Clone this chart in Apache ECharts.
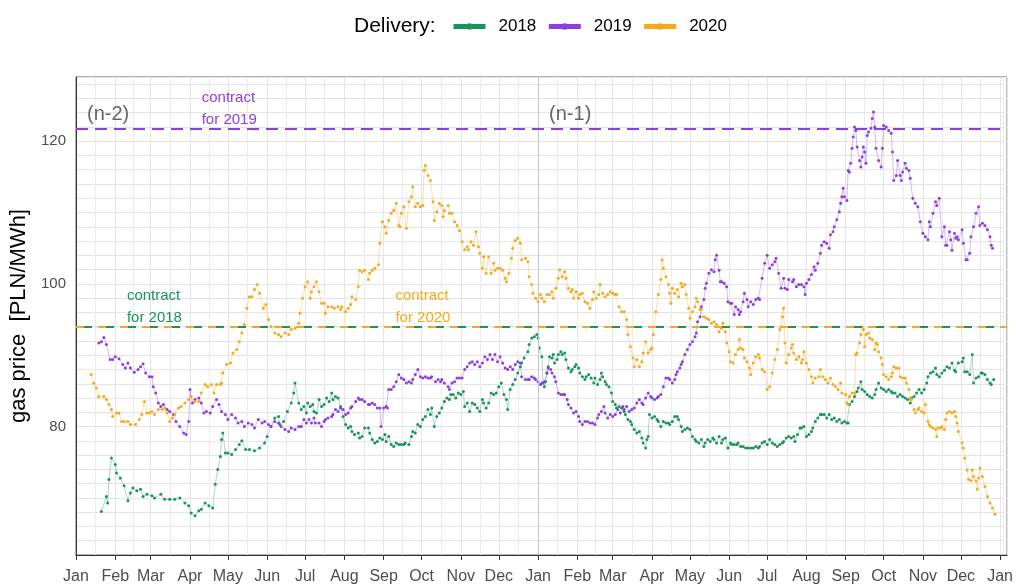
<!DOCTYPE html>
<html>
<head>
<meta charset="utf-8">
<script src="https://cdn.jsdelivr.net/npm/echarts@6/dist/echarts.min.js"></script>
<style>
  html, body { margin: 0; padding: 0; background: #fff; }
  #main { width: 1016px; height: 585px; }
</style>
</head>
<body>
<div id="main"></div>
<script>
// day offsets count from 1 Jan of year n-2, values in PLN/MWh
var months = ['Jan', 'Feb', 'Mar', 'Apr', 'May', 'Jun', 'Jul', 'Aug', 'Sep', 'Oct', 'Nov', 'Dec'];
var seriesNames = ['2018', '2019', '2020'];
var contract = { '2018': 94.0, '2019': 121.75, '2020': 94.0 };

var delivery2018 = [
  [20,68.1],[24,70.2],[25,69.3],[26,72.6],[28,75.6],[31,74.7],[32,73.5],[35,72.8],[38,71.7],[41,69.6],[43,70.7],[45,71.4],[48,71.0],[51,71.2],[53,70.2],[56,70.5],[60,70.3],[62,70.0],[67,70.5],[70,69.8],[74,69.8],[78,69.8],[82,70.0],[86,69.3],[89,68.9],[91,67.9],[94,67.5],[97,68.2],[99,68.4],[102,69.3],[105,68.9],[108,68.6],[110,71.9],[112,74.0],[114,75.8],[115,78.2],[116,79.1],[118,76.3],[120,76.3],[123,76.1],[126,76.8],[129,77.5],[131,78.0],[134,76.8],[137,76.8],[141,76.6],[145,77.0],[149,77.7],[151,78.6],[154,80.0],[157,81.2],[160,81.4],[161,80.3],[164,80.7],[167,82.1],[170,83.3],[172,84.7],[173,86.1],
  [176,83.3],[178,82.4],[180,82.8],[182,81.9],[183,83.3],[185,82.8],[187,83.1],[188,82.1],[190,81.9],[192,83.8],[194,82.8],[196,83.1],[198,84.0],[200,83.5],[202,84.7],[203,83.8],[205,84.2],[207,84.0],[209,82.8],[211,81.4],[213,80.3],[215,79.8],[217,80.0],[218,79.3],[220,78.9],[223,79.1],[224,78.4],[226,78.6],[228,79.8],[231,79.8],[232,79.1],[234,78.2],[236,77.7],[238,77.9],[240,78.4],[242,78.2],[244,78.9],[245,77.9],[247,78.6],[249,77.5],[251,77.2],[253,77.7],[255,77.5],[257,77.5],[259,77.5],[260,77.7],[263,77.5],[265,78.6],[266,79.3],[268,79.1],[270,80.3],[272,80.0],[274,81.0],[276,81.4],[278,82.4],[280,81.7],[281,82.6],[283,80.0],[285,81.4],[287,81.9],[289,82.6],[291,83.5],[293,84.0],[295,83.8],[296,84.5],[298,84.5],[300,84.0],[302,84.7],[304,84.5],[306,84.9],[307,82.8],[309,83.3],[311,82.1],[313,83.3],[315,83.1],[317,82.6],[319,82.1],[321,83.8],[322,83.3],[324,82.6],[326,83.3],[328,84.7],[330,84.5],[332,84.7],[334,85.6],[336,86.1],[338,84.5],[340,83.8],[341,82.4],[343,85.2],[345,85.9],[347,86.6],[349,87.5],[351,88.4],[352,88.9],[354,89.6],[357,90.5],[358,91.5],[360,92.4],
  [362,92.6],[364,92.9],[365,92.4],[366,91.0],[368,89.8],[369,86.1],[370,85.6],[371,86.3],[372,87.5],[373,88.4],[374,89.8],[376,89.6],[377,90.1],[378,88.9],[380,89.4],[381,90.1],[383,90.5],[384,90.1],[386,90.3],[387,89.4],[389,88.2],[391,87.7],[392,88.0],[394,88.4],[395,88.7],[397,88.2],[398,87.5],[400,87.0],[402,86.6],[403,87.0],[405,87.3],[407,86.8],[409,86.1],[410,86.8],[412,85.9],[414,86.6],[415,87.5],[416,87.0],[418,86.3],[419,85.9],[421,85.6],[423,84.7],[424,83.5],[426,83.1],[427,82.6],[429,82.8],[431,82.6],[433,82.1],[434,81.7],[436,81.0],[438,80.7],[439,80.3],[441,79.6],[443,79.1],[445,79.3],[447,78.4],[448,77.7],[450,77.0],[451,78.2],[452,78.6],[453,81.7],[455,81.2],[457,81.4],[459,81.0],[460,80.7],[462,80.0],[464,80.7],[466,80.5],[468,80.5],[469,80.3],[471,80.7],[473,81.4],[475,81.4],[476,81.0],[478,80.0],[479,79.3],[481,79.6],[483,79.8],[485,79.6],[487,78.6],[489,78.2],[490,77.9],[492,77.7],[494,78.2],[496,77.2],[497,77.7],[499,78.2],[501,77.9],[503,78.4],[504,78.2],[506,77.7],[508,78.6],[510,77.7],[511,78.2],[513,78.4],[515,77.0],[517,77.7],[518,77.5],[520,77.5],[522,77.5],[523,77.7],[525,77.2],[527,77.2],[529,77.0],[531,77.0],[533,77.0],[535,77.0],[537,77.2],[539,77.0],[540,77.2],
  [542,77.7],[544,77.9],[546,77.5],[548,78.2],[550,77.7],[552,77.5],[554,77.2],[556,77.5],[558,77.7],[559,77.9],[561,78.4],[563,78.6],[565,78.4],[567,78.6],[568,77.9],[570,78.9],[572,79.8],[573,79.8],[575,80.0],[577,78.6],[579,78.9],[581,79.3],[582,79.8],[584,80.7],[586,81.2],[588,81.7],[589,81.7],[591,81.7],[593,81.2],[595,81.7],[597,81.0],[599,81.2],[601,80.7],[603,81.0],[605,80.5],[607,80.7],[609,80.5],[610,80.5],[611,83.1],[613,83.5],[615,84.2],[617,84.9],[618,85.4],[620,86.3],[621,85.2],[623,84.9],[625,84.5],[627,84.2],[629,84.0],[631,84.5],[632,85.2],[634,86.1],[636,85.4],[638,85.2],[640,84.9],[642,85.2],[644,84.9],[645,84.7],[647,84.7],[649,84.2],[651,84.5],[653,84.2],[655,84.0],[657,83.8],[659,83.3],[660,84.0],[662,84.2],[664,84.7],[666,85.2],[668,84.7],[670,85.2],[672,86.1],[673,87.0],[675,87.5],[677,87.7],[679,88.2],[680,87.3],[682,87.0],[684,87.5],[686,87.9],[688,88.4],[690,88.2],[692,88.9],[694,87.9],[695,87.7],[697,88.9],[700,89.1],[701,89.6],[702,87.7],[704,87.7],[706,87.3],[708,90.1],[709,86.1],[711,86.8],[713,87.0],[715,87.5],[716,87.5],[718,87.3],[720,86.6],[722,86.1],[723,85.9],[725,86.6]
];

var delivery2019 = [
  [18,91.7],[20,91.9],[22,92.5],[24,91.5],[27,89.4],[29,89.4],[31,89.8],[34,89.5],[37,88.7],[39,88.2],[41,88.9],[43,88.2],[46,87.6],[49,88.0],[51,88.4],[53,88.8],[55,87.5],[58,87.0],[60,87.0],[61,85.6],[63,84.7],[65,83.3],[67,82.8],[69,83.1],[72,82.4],[74,82.1],[77,81.7],[79,80.7],[82,80.0],[85,79.1],[87,78.9],[89,80.7],[90,85.2],[92,83.3],[94,83.8],[97,84.0],[99,83.3],[101,81.9],[103,82.1],[106,81.9],[108,82.8],[111,83.8],[113,83.1],[115,82.1],[118,81.7],[120,81.0],[123,81.7],[126,81.2],[128,80.5],[131,80.7],[133,80.0],[136,80.5],[139,80.3],[141,79.8],[144,81.0],[147,80.5],[149,80.7],[152,80.3],[154,80.0],[157,80.7],[160,80.5],[162,80.0],[165,79.6],[168,79.3],[170,79.8],[173,79.6],
  [176,80.0],[178,80.0],[180,81.0],[182,80.5],[184,81.0],[186,80.5],[188,81.2],[189,80.5],[192,80.5],[194,80.0],[196,80.7],[197,81.0],[199,81.2],[202,81.4],[203,81.7],[205,82.4],[207,82.1],[209,82.6],[211,82.4],[213,81.7],[215,81.9],[217,82.6],[218,82.8],[221,83.5],[223,84.0],[224,83.8],[226,83.8],[228,83.5],[231,83.1],[232,83.1],[234,83.3],[236,83.1],[238,82.6],[240,82.6],[241,80.0],[243,82.6],[245,82.8],[246,82.6],[247,85.2],[249,85.2],[251,85.6],[253,86.3],[255,87.3],[257,86.8],[259,86.6],[261,86.1],[263,86.3],[265,86.1],[266,86.6],[268,87.3],[270,88.0],[272,87.0],[274,86.8],[276,87.0],[278,86.8],[280,86.8],[281,87.0],[284,86.3],[286,86.6],[288,86.3],[289,86.6],[291,86.1],[294,85.6],[295,85.2],[297,86.1],[299,86.3],[301,86.8],[303,86.8],[305,86.8],[307,88.0],[309,88.4],[311,88.9],[313,89.1],[315,88.7],[317,89.1],[319,88.4],[321,88.9],[323,89.8],[325,89.4],[327,90.1],[329,89.4],[331,90.1],[333,89.1],[335,89.8],[337,88.9],[339,88.2],[341,88.0],[343,88.4],[345,88.0],[347,88.7],[349,89.1],[351,88.9],[352,87.0],[355,86.6],[357,86.6],[358,86.6],[360,87.0],
  [362,86.8],[363,86.6],[365,86.3],[367,85.9],[368,86.1],[370,86.3],[372,87.5],[373,88.2],[375,88.0],[376,87.5],[378,87.0],[379,86.3],[381,84.7],[383,84.5],[385,84.5],[386,84.5],[388,83.8],[389,83.1],[391,82.6],[393,81.9],[395,82.1],[397,81.4],[398,80.7],[400,80.3],[402,80.7],[404,80.7],[406,80.5],[408,80.5],[410,80.3],[412,81.2],[413,81.7],[415,82.1],[417,82.8],[418,81.9],[420,81.2],[422,81.7],[424,81.4],[426,81.7],[428,82.4],[430,81.9],[432,82.8],[433,82.4],[435,82.8],[437,82.1],[439,82.4],[441,82.6],[443,83.3],[445,83.8],[447,83.3],[448,83.1],[450,84.0],[452,84.7],[454,84.2],[455,84.0],[457,83.8],[459,84.0],[460,84.2],[462,84.5],[464,85.6],[466,86.8],[468,86.8],[469,86.6],[471,86.1],[473,86.6],[474,87.3],[475,87.7],[477,88.2],[478,88.7],[479,89.1],[481,90.1],[483,90.8],[485,91.5],[487,91.9],[489,92.6],[490,93.1],[491,94.7],[493,95.4],[494,96.8],[496,97.8],[497,99.4],[498,100.1],[500,101.5],[502,102.0],[504,101.7],[505,103.4],[506,104.0],[508,101.9],[509,100.3],[510,100.3],[512,100.1],[514,99.6],[515,97.5],[517,97.3],[518,97.3],[520,95.7],[521,96.8],[523,96.4],[524,95.7],[525,96.1],[527,97.5],[528,98.7],[530,97.8],[531,96.8],[533,97.5],[535,97.1],[537,97.8],[539,98.0],[540,97.8],
  [542,100.8],[544,102.9],[546,104.0],[548,102.2],[550,102.7],[552,103.1],[553,103.6],[555,101.5],[557,99.4],[559,100.8],[560,99.4],[562,99.2],[563,100.6],[566,100.3],[567,100.6],[569,99.6],[571,99.9],[573,99.9],[575,99.6],[576,98.5],[577,100.1],[579,100.6],[581,101.3],[583,102.4],[584,101.9],[586,102.9],[588,104.3],[589,105.4],[591,105.9],[593,105.7],[595,105.0],[596,106.9],[598,107.3],[599,108.0],[601,109.0],[603,110.1],[604,111.3],[605,112.2],[606,113.4],[607,112.2],[609,111.7],[610,115.9],[611,115.7],[612,116.9],[613,119.0],[614,120.6],[615,122.0],[616,121.5],[617,119.2],[619,117.3],[620,116.4],[621,117.8],[622,119.2],[623,118.5],[624,116.9],[625,120.8],[626,121.3],[628,121.8],[629,123.2],[630,124.1],[631,122.0],[632,119.0],[634,117.3],[636,116.4],[637,119.0],[638,122.2],[640,122.0],[642,121.5],[644,121.1],[645,118.5],[646,114.5],[648,115.2],[649,117.3],[651,115.2],[652,114.5],[653,115.7],[655,116.9],[656,116.2],[658,115.9],[659,114.8],[661,112.0],[663,111.3],[665,110.8],[667,108.7],[669,107.1],[671,106.6],[673,106.2],[674,108.7],[675,108.0],[677,109.9],[679,111.5],[680,111.0],[682,112.0],[684,106.6],[686,108.0],[687,105.4],[688,105.4],[690,107.3],[691,106.2],[692,104.7],[694,107.1],[695,106.4],[696,106.6],[697,106.2],[700,107.6],[701,105.7],[703,103.4],[704,103.4],[706,104.3],[707,106.6],[709,108.0],[711,109.9],[713,110.8],[714,108.2],[716,108.5],[718,108.2],[720,107.6],[722,106.6],[723,105.4],[724,105.0]
];

var delivery2020 = [
  [12,87.3],[14,86.1],[16,85.4],[18,84.2],[22,84.2],[24,83.8],[26,83.1],[28,82.4],[29,81.4],[32,81.9],[34,81.9],[36,80.7],[38,80.7],[41,80.7],[43,80.3],[47,80.3],[50,81.0],[52,81.7],[54,83.5],[56,81.9],[58,81.9],[60,82.1],[62,81.7],[65,82.4],[68,82.4],[70,82.6],[72,81.9],[74,80.7],[76,81.2],[78,81.7],[81,82.6],[83,82.8],[86,83.3],[89,83.8],[91,84.2],[94,83.5],[97,83.5],[99,84.7],[102,85.9],[104,85.6],[107,85.9],[109,84.7],[111,85.9],[114,85.9],[115,86.1],[116,87.5],[119,88.7],[122,88.9],[124,90.3],[127,90.8],[129,91.9],[131,93.1],[133,94.3],[135,96.6],[137,98.2],[139,98.2],[141,99.2],[143,99.9],[145,98.7],[148,96.6],[150,97.1],[152,95.0],[154,94.0],[157,93.1],[160,92.9],[162,92.6],[165,93.1],[168,92.9],[170,93.6],[173,93.8],
  [176,94.5],[177,95.9],[179,98.0],[181,99.6],[183,100.3],[185,98.0],[186,98.9],[188,99.6],[190,100.3],[192,98.9],[194,97.3],[196,97.3],[197,95.9],[199,96.8],[202,96.8],[204,96.6],[207,96.8],[209,96.4],[210,96.8],[213,96.1],[215,96.6],[217,97.1],[218,98.2],[221,97.8],[223,99.6],[224,101.9],[226,101.7],[228,101.9],[231,100.6],[232,101.5],[234,101.9],[236,102.2],[239,102.7],[240,105.7],[242,108.7],[244,108.0],[245,107.1],[247,108.9],[249,109.9],[251,110.3],[253,111.3],[255,108.2],[256,108.0],[257,109.9],[259,110.8],[261,107.8],[263,111.5],[265,112.2],[266,113.6],[268,110.8],[270,111.3],[272,110.8],[274,111.0],[275,115.9],[276,116.6],[278,115.2],[280,114.5],[282,111.5],[283,108.9],[285,110.1],[287,111.3],[289,111.0],[290,109.4],[291,110.3],[294,111.0],[295,109.9],[297,109.9],[299,108.7],[301,108.2],[303,107.5],[305,105.9],[307,104.8],[309,105.2],[310,104.8],[312,105.9],[314,105.4],[316,107.3],[318,105.2],[319,104.3],[321,102.2],[322,103.8],[324,101.5],[326,103.8],[328,101.5],[330,102.9],[331,101.9],[333,102.2],[335,102.2],[337,101.9],[339,100.8],[340,100.3],[342,101.5],[344,103.6],[345,105.0],[347,106.1],[349,106.4],[351,105.7],[352,103.4],[355,103.6],[357,103.1],[358,101.0],[360,99.9],
  [361,98.7],[363,98.0],[365,97.5],[367,98.5],[368,98.0],[370,97.5],[372,98.5],[374,98.5],[376,98.9],[377,98.0],[379,99.4],[381,100.8],[382,102.0],[384,101.0],[386,101.7],[387,100.8],[389,99.4],[391,98.9],[392,99.2],[393,98.0],[395,98.9],[397,98.0],[398,98.5],[400,98.7],[402,97.5],[404,97.3],[406,96.6],[408,97.8],[409,98.9],[411,98.0],[413,98.5],[414,99.9],[416,98.7],[418,98.2],[420,98.5],[422,98.9],[424,98.7],[426,98.5],[427,98.5],[429,96.8],[431,96.1],[433,96.1],[435,95.0],[436,92.9],[438,91.2],[440,89.6],[441,88.4],[443,89.4],[445,88.4],[447,89.1],[448,90.3],[450,91.9],[452,90.3],[454,90.8],[455,91.0],[456,92.9],[458,96.1],[460,98.5],[462,100.6],[463,103.4],[464,102.2],[466,101.0],[468,99.9],[469,98.7],[470,97.3],[471,99.4],[473,98.7],[475,99.2],[476,98.2],[478,100.1],[479,99.6],[481,99.9],[482,98.5],[484,96.6],[485,95.2],[487,96.1],[489,96.8],[490,98.0],[491,97.5],[493,96.4],[494,96.4],[496,95.4],[498,95.2],[500,95.0],[502,94.5],[504,94.7],[506,94.3],[508,93.3],[510,93.8],[511,94.5],[513,93.3],[514,91.7],[516,90.5],[517,89.1],[519,88.9],[521,90.1],[523,90.8],[524,92.2],[525,91.0],[527,90.8],[528,89.6],[530,89.1],[532,88.2],[533,87.3],[535,88.9],[537,89.8],[539,90.1],[540,89.6],
  [542,88.0],[544,87.7],[546,85.2],[548,85.6],[550,87.5],[552,89.4],[554,90.8],[556,93.6],[557,94.0],[558,95.4],[559,96.6],[560,91.7],[561,88.9],[563,90.1],[565,91.0],[566,91.5],[567,90.3],[569,89.4],[571,89.8],[573,88.9],[574,89.4],[575,90.5],[577,88.9],[579,88.0],[581,87.0],[582,86.1],[584,86.8],[587,87.0],[588,88.0],[590,87.0],[592,86.6],[594,86.1],[596,86.8],[598,85.9],[600,85.6],[602,85.2],[604,86.1],[605,84.7],[608,84.5],[609,83.3],[610,83.1],[611,84.2],[613,84.7],[615,84.7],[616,90.1],[617,90.3],[619,91.7],[620,92.9],[621,94.0],[622,93.6],[623,91.2],[624,92.9],[626,93.1],[627,92.4],[629,92.2],[631,90.8],[632,91.7],[633,91.5],[634,90.5],[636,89.6],[637,88.7],[638,87.3],[640,87.0],[642,86.6],[644,87.0],[645,87.5],[646,88.4],[648,88.2],[650,88.2],[651,87.0],[653,86.8],[655,86.8],[656,86.1],[658,85.2],[659,84.0],[660,83.8],[662,82.4],[663,81.9],[665,82.4],[666,82.6],[668,82.1],[670,81.9],[671,83.1],[673,80.7],[674,80.3],[675,80.0],[677,79.8],[679,79.6],[680,78.6],[681,79.8],[683,79.8],[684,80.0],[686,79.6],[687,81.0],[688,81.9],[690,82.1],[692,81.9],[694,82.1],[695,81.4],[696,80.5],[697,79.3],[700,77.7],[701,77.0],[702,75.6],[704,73.9],[705,72.6],[707,72.4],[708,73.9],[709,73.0],[711,72.4],[712,71.2],[713,72.8],[714,74.2],[716,73.0],[718,71.6],[720,70.2],[722,69.3],[724,68.6],[726,67.7]
];

var colors = { '2018': '#19945a', '2019': '#8c3fe0', '2020': '#f6a81e' };
var base = Date.UTC(2017, 0, 1);
var DAY = 86400000;
function t(d) { return base + d * DAY; }
function toTime(pts) { return pts.map(function (p) { return [t(p[0]), p[1]]; }); }

var FONT = 'Liberation Sans, Arial, sans-serif';

function lineSeries(name, pts, extra) {
    var s = {
        name: name,
        type: 'line',
        data: toTime(pts),
        symbol: 'circle',
        symbolSize: 3,
        showAllSymbol: true,
        lineStyle: { width: 0.6, opacity: 0.6, color: colors[name] },
        itemStyle: { color: colors[name] },
        emphasis: { disabled: true },
        z: 3
    };
    for (var k in extra) s[k] = extra[k];
    return s;
}

function note(day, value, text, color, size) {
    return {
        coord: [t(day), value],
        label: { formatter: text, color: color, fontSize: size, lineHeight: size + 7 }
    };
}

var option = {
    animation: false,
    useUTC: true,
    textStyle: { fontFamily: FONT },
    title: {
        text: 'Delivery:',
        left: 349, top: 11,
        textStyle: { fontSize: 21, fontWeight: 'normal', color: '#000', fontFamily: FONT }
    },
    legend: {
        data: seriesNames,
        left: 446, top: 13,
        itemWidth: 32, itemHeight: 8, itemGap: 10,
        lineStyle: { width: 5, opacity: 1 },
        itemStyle: { opacity: 1 },
        textStyle: { fontSize: 17, color: '#000', fontFamily: FONT, padding: [0, 0, 0, 8] }
    },
    grid: { left: 76, right: 6, top: 77, bottom: 30, show: true, borderColor: '#666', borderWidth: 1 },
    xAxis: {
        type: 'time',
        min: t(0),
        max: t(735.5),
        splitNumber: 24,
        minInterval: 28 * DAY,
        maxInterval: 31 * DAY,
        axisLine: { lineStyle: { color: '#333' } },
        axisTick: { show: true, length: 5, lineStyle: { color: '#333' } },
        axisLabel: {
            interval: 0, showMinLabel: true, showMaxLabel: false, hideOverlap: false,
            fontSize: 16, color: '#4d4d4d', fontFamily: FONT, margin: 14,
            formatter: function (v) { return months[new Date(v).getUTCMonth()]; }
        },
        splitLine: { show: true, lineStyle: { color: '#e5e5e5', width: 1 } },
        minorTick: { show: false, splitNumber: 2 },
        minorSplitLine: { show: true, lineStyle: { color: '#ececec', width: 1 } }
    },
    yAxis: {
        type: 'value',
        min: 62, max: 129, interval: 2,
        name: 'gas price  [PLN/MWh]',
        nameLocation: 'middle', nameGap: 42,
        nameTextStyle: { fontSize: 22, color: '#000', fontFamily: FONT },
        axisLine: { show: true, lineStyle: { color: '#333' } },
        axisTick: { show: false },
        axisLabel: {
            fontSize: 15, color: '#4d4d4d', fontFamily: FONT, margin: 10,
            formatter: function (v) { return v % 20 === 0 ? String(v) : ''; }
        },
        splitLine: { show: true, lineStyle: { color: '#e5e5e5', width: 1 } }
    },
    series: [
        lineSeries('2018', delivery2018, {
            markLine: {
                silent: true, symbol: 'none', label: { show: false },
                data: [
                    { xAxis: t(365), lineStyle: { color: '#c4c4c4', type: 'solid', width: 1 } },
                    { yAxis: contract['2018'], lineStyle: { color: colors['2018'], type: [8, 14], width: 2, dashOffset: 14 } }
                ]
            }
        }),
        lineSeries('2019', delivery2019, {
            markLine: {
                silent: true, symbol: 'none', label: { show: false },
                data: [
                    { yAxis: contract['2019'], lineStyle: { color: colors['2019'], type: [12, 7], width: 2 } }
                ]
            }
        }),
        lineSeries('2020', delivery2020, {
            markLine: {
                silent: true, symbol: 'none', label: { show: false },
                data: [
                    { yAxis: contract['2020'], lineStyle: { color: colors['2020'], type: [8, 14], width: 2 } }
                ]
            },
            markPoint: {
                silent: true, symbol: 'circle', symbolSize: 0,
                label: { show: true, position: 'right', distance: 0, fontFamily: FONT },
                data: [
                    note(8.7, 123.8, '(n-2)', '#666666', 20),
                    note(373.7, 123.8, '(n-1)', '#666666', 20),
                    note(99.3, 124.6, 'contract\nfor 2019', colors['2019'], 15),
                    note(40.2, 96.8, 'contract\nfor 2018', colors['2018'], 15),
                    note(252.3, 96.8, 'contract\nfor 2020', colors['2020'], 15)
                ]
            }
        })
    ]
};

var chart = echarts.init(document.getElementById('main'));
chart.setOption(option);
</script>
</body>
</html>
